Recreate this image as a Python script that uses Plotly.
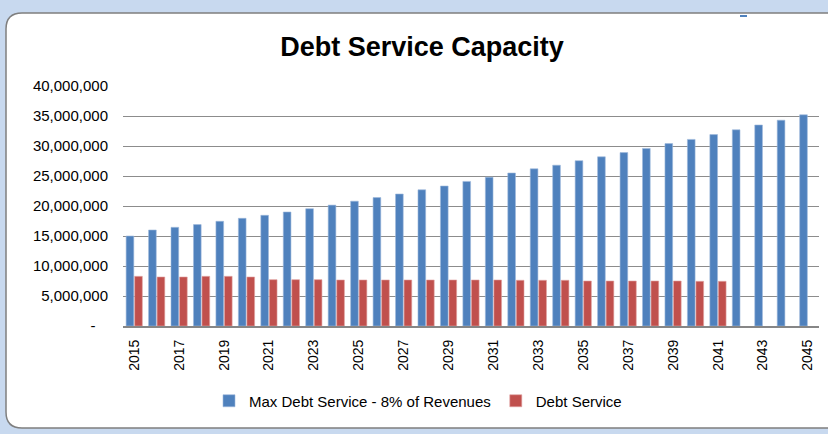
import plotly.graph_objects as go

years = list(range(2015, 2046))
max_debt_service = [15.0, 16.0, 16.45, 16.9, 17.45, 17.95, 18.45, 19.0, 19.55, 20.15,
                    20.8, 21.4, 22.0, 22.7, 23.33, 24.1, 24.8, 25.5, 26.2, 26.8,
                    27.55, 28.2, 28.9, 29.6, 30.4, 31.1, 31.9, 32.7, 33.5, 34.3, 35.2]
max_debt_service = [v * 1e6 for v in max_debt_service]
debt_service = [8.28, 8.17, 8.17, 8.28, 8.28, 8.17, 7.72, 7.72, 7.72, 7.67,
                7.67, 7.67, 7.67, 7.67, 7.67, 7.67, 7.67, 7.62, 7.62, 7.62,
                7.5, 7.5, 7.5, 7.5, 7.5, 7.45, 7.45]
debt_service = [v * 1e6 for v in debt_service]
y_ticks = [0, 5e6, 10e6, 15e6, 20e6, 25e6, 30e6, 35e6, 40e6]
y_tick_text = ["-\u00a0\u00a0\u00a0"] + [f"{int(v):,}" for v in y_ticks[1:]]

W, H = 828, 434
L, R, T, B = 123, 9, 86, 108
PW, PH = W - L - R, H - T - B

def px(x):
    return (x - L) / PW

def py(y):
    return (H - B - y) / PH

# rounded white panel path (pixel coords converted to paper coords)
x0, y0, x1, y1, r = 6, 13, 845, 428, 16
pts = (f"M {px(x0 + r)},{py(y0)} L {px(x1 - r)},{py(y0)} "
       f"Q {px(x1)},{py(y0)} {px(x1)},{py(y0 + r)} L {px(x1)},{py(y1 - r)} "
       f"Q {px(x1)},{py(y1)} {px(x1 - r)},{py(y1)} L {px(x0 + r)},{py(y1)} "
       f"Q {px(x0)},{py(y1)} {px(x0)},{py(y1 - r)} L {px(x0)},{py(y0 + r)} "
       f"Q {px(x0)},{py(y0)} {px(x0 + r)},{py(y0)} Z")

font = "Liberation Sans, Arial, sans-serif"

fig = go.Figure()
fig.add_trace(go.Bar(x=years, y=max_debt_service, name="Max Debt Service - 8% of Revenues",
                     marker=dict(color="#4F81BD", line=dict(color="#9db8dc", width=0.6))))
fig.add_trace(go.Bar(x=years[:len(debt_service)], y=debt_service, name="Debt Service",
                     marker=dict(color="#C0504D", line=dict(color="#e0a3a1", width=0.6))))

fig.update_layout(
    width=W, height=H,
    margin=dict(l=L, r=R, t=T, b=B),
    paper_bgcolor="#c8d9ef",
    plot_bgcolor="white",
    barmode="group", bargap=0.24, bargroupgap=0.1,
    title=dict(text="<b>Debt Service Capacity</b>", x=422 / W, xanchor="center",
               xref="container", y=1 - 47 / H, yanchor="middle", yref="container",
               font=dict(family=font, size=27, color="black")),
    font=dict(family=font, size=14, color="black"),
    showlegend=True,
    legend=dict(orientation="h", x=(418 - (L + PW / 2)) / PW + 0.5,
                xanchor="center", y=py(401), yanchor="middle",
                font=dict(family=font, size=15, color="black"),
                bgcolor="rgba(0,0,0,0)", itemwidth=30, traceorder="normal"),
    xaxis=dict(range=[2014.5, 2045.5], tickmode="linear", tick0=2015, dtick=2,
               tickangle=-90, showgrid=False, showline=True, linecolor="#868686",
               linewidth=2, ticks="", tickfont=dict(size=14), zeroline=False,
               ticklabelstandoff=6),
    yaxis=dict(range=[0, 40e6], tickmode="array", tickvals=y_ticks, ticktext=y_tick_text,
               showgrid=True, gridcolor="#8c8c8c", gridwidth=1, zeroline=False,
               showline=False, ticks="", ticklen=0, tickfont=dict(size=15),
               ticklabelstandoff=14),
    shapes=[
        dict(type="path", path=pts, xref="paper", yref="paper", layer="below",
             fillcolor="white", line=dict(color="#7f7f7f", width=1.5)),
        dict(type="line", xref="paper", yref="paper", x0=px(740), x1=px(747),
             y0=py(16), y1=py(16), line=dict(color="#4F81BD", width=2)),
    ],
)

fig.write_html("out.html")
